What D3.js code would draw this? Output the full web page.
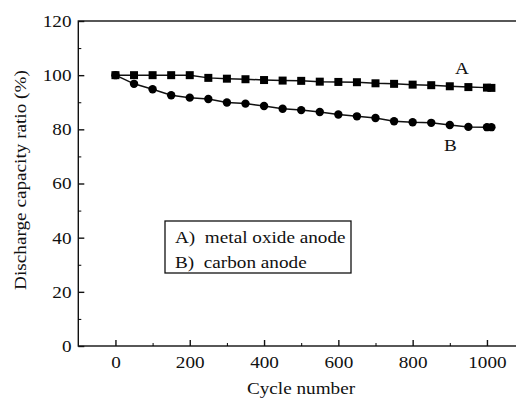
<!DOCTYPE html>
<html>
<head>
<meta charset="utf-8">
<script src="https://cdn.jsdelivr.net/npm/d3@7"></script>
<style>
  body { margin: 0; background: #fff; }
  svg { display: block; }
</style>
</head>
<body>
<div id="chart"></div>
<script>
// cycle numbers (the last point is a little after 1000)
const cycles = [0, 50, 100, 150, 200, 250, 300, 350, 400, 450, 500, 550, 600, 650, 700, 750, 800, 850, 900, 950, 1000, 1012];
// A) metal oxide anode
const seriesA = [100, 100, 100, 100, 100, 99.0, 98.7, 98.5, 98.2, 98.0, 97.9, 97.6, 97.5, 97.4, 97.0, 96.8, 96.5, 96.3, 95.9, 95.6, 95.4, 95.3];
// B) carbon anode
const seriesB = [100, 96.8, 94.8, 92.6, 91.7, 91.2, 89.9, 89.5, 88.6, 87.6, 87.1, 86.4, 85.5, 84.8, 84.2, 83.0, 82.6, 82.4, 81.6, 80.9, 80.8, 80.8];
const xTicks = [0, 200, 400, 600, 800, 1000];
const yTicks = [0, 20, 40, 60, 80, 100, 120];
const legendItems = ["A)  metal oxide anode", "B)  carbon anode"];

const width = 516, height = 399;
const fs = 17, sx = 1.13;   // the original type is a bit wide
const font = "'Liberation Serif', Tinos, 'DejaVu Serif', serif";

const svg = d3.select("#chart").append("svg")
  .attr("width", width)
  .attr("height", height)
  .attr("font-family", font);

// x domain runs past the window on the right, the picture is cut there
const x = d3.scaleLinear().domain([-100, 1100]).range([78.3, 524.1]);
const y = d3.scaleLinear().domain([0, 120]).range([346, 21]);

// frame
svg.append("rect")
  .attr("x", x(-100)).attr("y", y(120))
  .attr("width", x(1100) - x(-100)).attr("height", y(0) - y(120))
  .attr("fill", "none").attr("stroke", "#111").attr("stroke-width", 1.4);

// minor ticks
svg.append("g")
  .attr("transform", `translate(0,${y(0)})`)
  .call(d3.axisBottom(x).tickValues([100, 300, 500, 700, 900, 1100]).tickSize(-3).tickFormat(""))
  .call(g => g.select(".domain").remove());
svg.append("g")
  .attr("transform", `translate(${x(-100)},0)`)
  .call(d3.axisLeft(y).tickValues([10, 30, 50, 70, 90, 110]).tickSize(-3).tickFormat(""))
  .call(g => g.select(".domain").remove());

// major ticks + labels
const xAxis = svg.append("g")
  .attr("transform", `translate(0,${y(0)})`)
  .call(d3.axisBottom(x).tickValues(xTicks).tickFormat(d3.format("d")).tickSize(-6).tickPadding(10))
  .call(g => g.select(".domain").remove());
const yAxis = svg.append("g")
  .attr("transform", `translate(${x(-100)},0)`)
  .call(d3.axisLeft(y).tickValues(yTicks).tickFormat(d3.format("d")).tickSize(-6).tickPadding(6))
  .call(g => g.select(".domain").remove());

[xAxis, yAxis].forEach(g => {
  g.attr("font-family", font).attr("font-size", fs);
  g.selectAll("line").attr("stroke", "#111").attr("stroke-width", 1.4);
  g.selectAll("text")
    .attr("fill", "#111")
    .attr("transform", `scale(${sx},1)`);
});

// axis titles
svg.append("text")
  .attr("transform", `translate(301,394) scale(${sx},1)`)
  .attr("text-anchor", "middle")
  .attr("font-size", fs)
  .attr("fill", "#111")
  .text("Cycle number");

svg.append("text")
  .attr("transform", `translate(26,180) rotate(-90) scale(${sx},1)`)
  .attr("text-anchor", "middle")
  .attr("font-size", fs)
  .attr("fill", "#111")
  .text("Discharge capacity ratio (%)");

// lines
const ptsA = cycles.map((c, i) => [c, seriesA[i]]);
const ptsB = cycles.map((c, i) => [c, seriesB[i]]);
const line = d3.line().x(d => x(d[0])).y(d => y(d[1]));

svg.append("path").attr("d", line(ptsB))
  .attr("fill", "none").attr("stroke", "#111").attr("stroke-width", 1.5);
svg.append("path").attr("d", line(ptsA))
  .attr("fill", "none").attr("stroke", "#111").attr("stroke-width", 1.5);

// markers
const sq = 8;
svg.append("g").selectAll("circle")
  .data(ptsB)
  .join("circle")
    .attr("cx", d => x(d[0]))
    .attr("cy", d => y(d[1]))
    .attr("r", 4.2)
    .attr("fill", "#000");
svg.append("g").selectAll("rect")
  .data(ptsA)
  .join("rect")
    .attr("x", d => x(d[0]) - sq / 2)
    .attr("y", d => y(d[1]) - sq / 2)
    .attr("width", sq)
    .attr("height", sq)
    .attr("fill", "#000");

// series labels
svg.append("text")
  .attr("transform", `translate(462,74) scale(${sx},1)`)
  .attr("text-anchor", "middle")
  .attr("font-size", fs)
  .attr("fill", "#111")
  .text("A");
svg.append("text")
  .attr("transform", `translate(450.5,151) scale(${sx},1)`)
  .attr("text-anchor", "middle")
  .attr("font-size", fs)
  .attr("fill", "#111")
  .text("B");

// legend box
const legend = svg.append("g");
legend.append("rect")
  .attr("x", 165).attr("y", 221)
  .attr("width", 186).attr("height", 52)
  .attr("fill", "#fff").attr("stroke", "#111").attr("stroke-width", 1.3);
legend.selectAll("text")
  .data(legendItems)
  .join("text")
    .attr("transform", (d, i) => `translate(175,${243 + i * 25}) scale(${sx},1)`)
    .attr("font-size", fs)
    .attr("fill", "#111")
    .attr("xml:space", "preserve")
    .style("white-space", "pre")
    .text(d => d);
</script>
</body>
</html>
